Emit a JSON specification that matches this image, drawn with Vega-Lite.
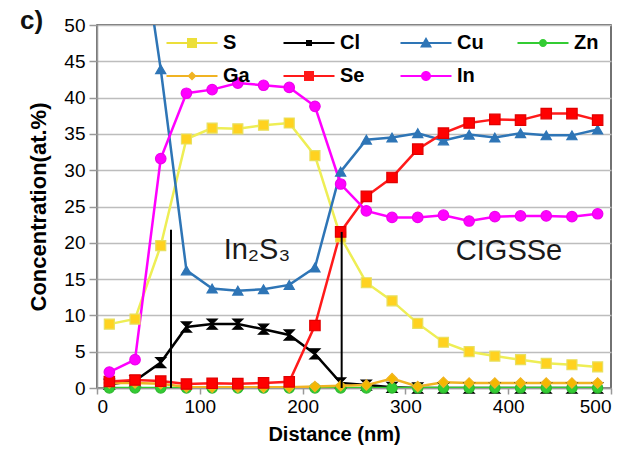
{
  "$schema": "https://vega.github.io/schema/vega-lite/v6.json",
  "width": 514,
  "height": 363,
  "autosize": {"type": "none"},
  "padding": {"left": 97, "top": 25, "right": 22, "bottom": 62},
  "background": "white",
  "title": {"text": "c)", "anchor": "start", "frame": "group", "fontSize": 26, "fontWeight": "bold", "font": "Liberation Sans", "color": "#111", "dx": -77, "dy": 31, "baseline": "middle", "offset": 0},
  "config": {"view": {"stroke": "#444", "strokeWidth": 1.5}, "font": "Liberation Sans"},
  "datasets": {
    "prof": [
      {"d": 12, "S": 8.8, "Cl": 0.5, "Cu": 70, "Zn": 0, "Ga": 0.7, "Se": 0.9, "In": 2.2},
      {"d": 37, "S": 9.5, "Cl": 1.0, "Cu": 68, "Zn": 0, "Ga": 0.7, "Se": 1.1, "In": 3.9},
      {"d": 62, "S": 19.6, "Cl": 3.5, "Cu": 43.9, "Zn": 0, "Ga": 0.6, "Se": 0.95, "In": 31.6},
      {"d": 87, "S": 34.3, "Cl": 8.4, "Cu": 16.2, "Zn": 0, "Ga": 0.15, "Se": 0.55, "In": 40.6},
      {"d": 112, "S": 35.8, "Cl": 8.8, "Cu": 13.7, "Zn": 0, "Ga": 0.1, "Se": 0.65, "In": 41.1},
      {"d": 137, "S": 35.7, "Cl": 8.8, "Cu": 13.4, "Zn": 0, "Ga": 0.1, "Se": 0.6, "In": 42.0},
      {"d": 162, "S": 36.2, "Cl": 8.1, "Cu": 13.6, "Zn": 0, "Ga": 0.1, "Se": 0.7, "In": 41.7},
      {"d": 187, "S": 36.5, "Cl": 7.3, "Cu": 14.2, "Zn": 0, "Ga": 0.1, "Se": 0.85, "In": 41.4},
      {"d": 212, "S": 32.0, "Cl": 4.7, "Cu": 16.6, "Zn": 0, "Ga": 0.2, "Se": 8.6, "In": 38.8},
      {"d": 237, "S": 20.8, "Cl": 0.7, "Cu": 29.8, "Zn": 0, "Ga": 0.3, "Se": 21.5, "In": 28.1},
      {"d": 262, "S": 14.5, "Cl": 0.4, "Cu": 34.2, "Zn": 0, "Ga": 0.4, "Se": 26.4, "In": 24.4},
      {"d": 287, "S": 12.0, "Cl": 0.1, "Cu": 34.5, "Zn": 0, "Ga": 1.3, "Se": 29.0, "In": 23.5},
      {"d": 312, "S": 8.9, "Cl": 0, "Cu": 35.1, "Zn": 0, "Ga": 0.2, "Se": 32.9, "In": 23.5},
      {"d": 337, "S": 6.3, "Cl": 0, "Cu": 34.1, "Zn": 0, "Ga": 0.8, "Se": 35.1, "In": 23.8},
      {"d": 362, "S": 5.0, "Cl": 0, "Cu": 34.9, "Zn": 0, "Ga": 0.7, "Se": 36.5, "In": 23.0},
      {"d": 387, "S": 4.4, "Cl": 0, "Cu": 34.5, "Zn": 0, "Ga": 0.7, "Se": 37.0, "In": 23.6},
      {"d": 412, "S": 3.9, "Cl": 0, "Cu": 35.1, "Zn": 0, "Ga": 0.7, "Se": 36.9, "In": 23.7},
      {"d": 437, "S": 3.4, "Cl": 0, "Cu": 34.8, "Zn": 0, "Ga": 0.7, "Se": 37.8, "In": 23.7},
      {"d": 462, "S": 3.2, "Cl": 0, "Cu": 34.8, "Zn": 0, "Ga": 0.7, "Se": 37.8, "In": 23.6},
      {"d": 487, "S": 2.9, "Cl": 0, "Cu": 35.6, "Zn": 0, "Ga": 0.7, "Se": 36.9, "In": 24.0}
    ],
    "rules": [
      {"d": 72, "v": 0, "v2": 21.8},
      {"d": 238, "v": 0, "v2": 21.5}
    ],
    "labels": [
      {"d": 155.6, "v": 17.7, "t": "In₂S₃"},
      {"d": 400.8, "v": 17.6, "t": "CIGSSe"}
    ]
  },
  "encoding": {
    "x": {
      "field": "d", "type": "quantitative",
      "scale": {"domain": [0, 500], "nice": false},
      "axis": {
        "title": "Distance (nm)", "values": [0, 100, 200, 300, 400, 500], "grid": false,
        "domainColor": "#999", "domainWidth": 1.5, "tickColor": "#999", "tickSize": 6, "tickWidth": 1.5,
        "labelFontSize": 19, "labelFont": "Liberation Sans", "labelColor": "#000", "labelPadding": 3,
        "titleFontSize": 20, "titleFontWeight": "bold", "titleFont": "Liberation Sans", "titleColor": "#000",
        "titlePadding": 8, "titleX": 237
      }
    },
    "y": {
      "field": "v", "type": "quantitative",
      "scale": {"domain": [0, 50], "nice": false},
      "axis": {
        "title": "Concentration(at.%)", "values": [0, 5, 10, 15, 20, 25, 30, 35, 40, 45, 50], "grid": true,
        "gridColor": "#bdbdbd", "gridWidth": 1.5,
        "domainColor": "#999", "domainWidth": 1.5, "tickColor": "#999", "tickSize": 8, "tickWidth": 1.5,
        "labelFontSize": 19, "labelFont": "Liberation Sans", "labelColor": "#000", "labelPadding": 4,
        "titleFontSize": 22, "titleFontWeight": "bold", "titleFont": "Liberation Sans", "titleColor": "#000",
        "titlePadding": 13
      }
    }
  },
  "layer": [
    {
      "data": {"name": "prof"},
      "transform": [{"fold": ["S", "Cl", "Cu", "Zn", "Ga", "Se", "In"], "as": ["el", "v"]}],
      "mark": {"type": "line", "clip": true, "strokeWidth": 2.5},
      "encoding": {
        "color": {
          "field": "el", "type": "nominal",
          "scale": {"domain": ["S", "Cl", "Cu", "Zn", "Ga", "Se", "In"], "range": ["#eeee55", "#000000", "#2e75b6", "#33cc33", "#f0b323", "#ff1a1a", "#ff00ff"]},
          "legend": {
            "title": null, "orient": "none", "legendX": 85, "legendY": 8, "columns": 4, "direction": "horizontal", "gridAlign": "all",
            "columnPadding": 33, "rowPadding": 13, "symbolSize": 400, "labelOffset": 21,
            "labelFontSize": 20, "labelFontWeight": "bold", "labelFont": "Liberation Sans", "labelColor": "#000",
            "padding": 0, "labelLimit": 100,
            "encode": {
              "symbols": {
                "update": {
                  "shape": {"signal": "{'S':'M-2.55,-0.11H2.55V0.11H-2.55Z M-0.5,-0.5H0.5V0.5H-0.5Z','Cl':'M-2.55,-0.11H2.55V0.11H-2.55Z M-0.3,-0.3H0.3V0.3H-0.3Z','Cu':'M-2.55,-0.11H2.55V0.11H-2.55Z M0,-0.6L0.6,0.45H-0.6Z','Zn':'M-2.55,-0.11H2.55V0.11H-2.55Z M-0.4,0A0.4,0.4 0 1,1 0.4,0A0.4,0.4 0 1,1 -0.4,0Z','Ga':'M-2.55,-0.11H2.55V0.11H-2.55Z M0,-0.45L0.45,0L0,0.45L-0.45,0Z','Se':'M-2.55,-0.11H2.55V0.11H-2.55Z M-0.5,-0.5H0.5V0.5H-0.5Z','In':'M-2.55,-0.11H2.55V0.11H-2.55Z M-0.5,0A0.5,0.5 0 1,1 0.5,0A0.5,0.5 0 1,1 -0.5,0Z'}[datum.value]"},
                  "fill": {"signal": "{'S':'#ecdf3a','Cl':'#000000','Cu':'#2e75b6','Zn':'#33cc33','Ga':'#f0b323','Se':'#ff1a1a','In':'#ff00ff'}[datum.value]"},
                  "stroke": {"value": "transparent"},
                  "strokeWidth": {"value": 0},
                  "opacity": {"value": 1}
                }
              }
            }
          }
        }
      }
    },
    {
      "data": {"name": "prof"},
      "transform": [{"fold": ["S", "Cl", "Cu", "Zn", "Ga", "Se", "In"], "as": ["sp", "v"]}, {"filter": "datum.v <= 50"}],
      "mark": {"type": "point", "filled": true, "strokeWidth": 1.2, "opacity": 1},
      "encoding": {
        "shape": {"field": "sp", "type": "nominal", "legend": null,
          "scale": {"domain": ["In", "Se", "Ga", "Zn", "Cu", "Cl", "S"], "range": ["circle", "square", "diamond", "circle", "triangle-up", "M-1,-1H1L-1,1H1Z", "square"]}},
        "size": {"field": "sp", "type": "nominal", "legend": null,
          "scale": {"domain": ["In", "Se", "Ga", "Zn", "Cu", "Cl", "S"], "range": [110, 100, 60, 60, 80, 45, 100]}},
        "fill": {"field": "sp", "type": "nominal", "legend": null,
          "scale": {"domain": ["In", "Se", "Ga", "Zn", "Cu", "Cl", "S"], "range": ["#ff00ff", "#ff0000", "#f5b800", "#33cc33", "#2e75b6", "#000000", "#ffd21f"]}},
        "stroke": {"field": "sp", "type": "nominal", "legend": null,
          "scale": {"domain": ["In", "Se", "Ga", "Zn", "Cu", "Cl", "S"], "range": ["#ee00ee", "#e00000", "#f0b323", "#2fb82f", "#2e75b6", "#000000", "#e8e060"]}}
      }
    },
    {
      "data": {"name": "rules"},
      "mark": {"type": "rule", "color": "#000", "strokeWidth": 2},
      "encoding": {"y2": {"field": "v2"}}
    },
    {
      "data": {"name": "labels"},
      "mark": {"type": "text", "fontSize": 29, "font": "Liberation Sans", "color": "#1a1a1a", "align": "center", "baseline": "alphabetic"},
      "encoding": {"text": {"field": "t", "type": "nominal"}}
    }
  ]
}
